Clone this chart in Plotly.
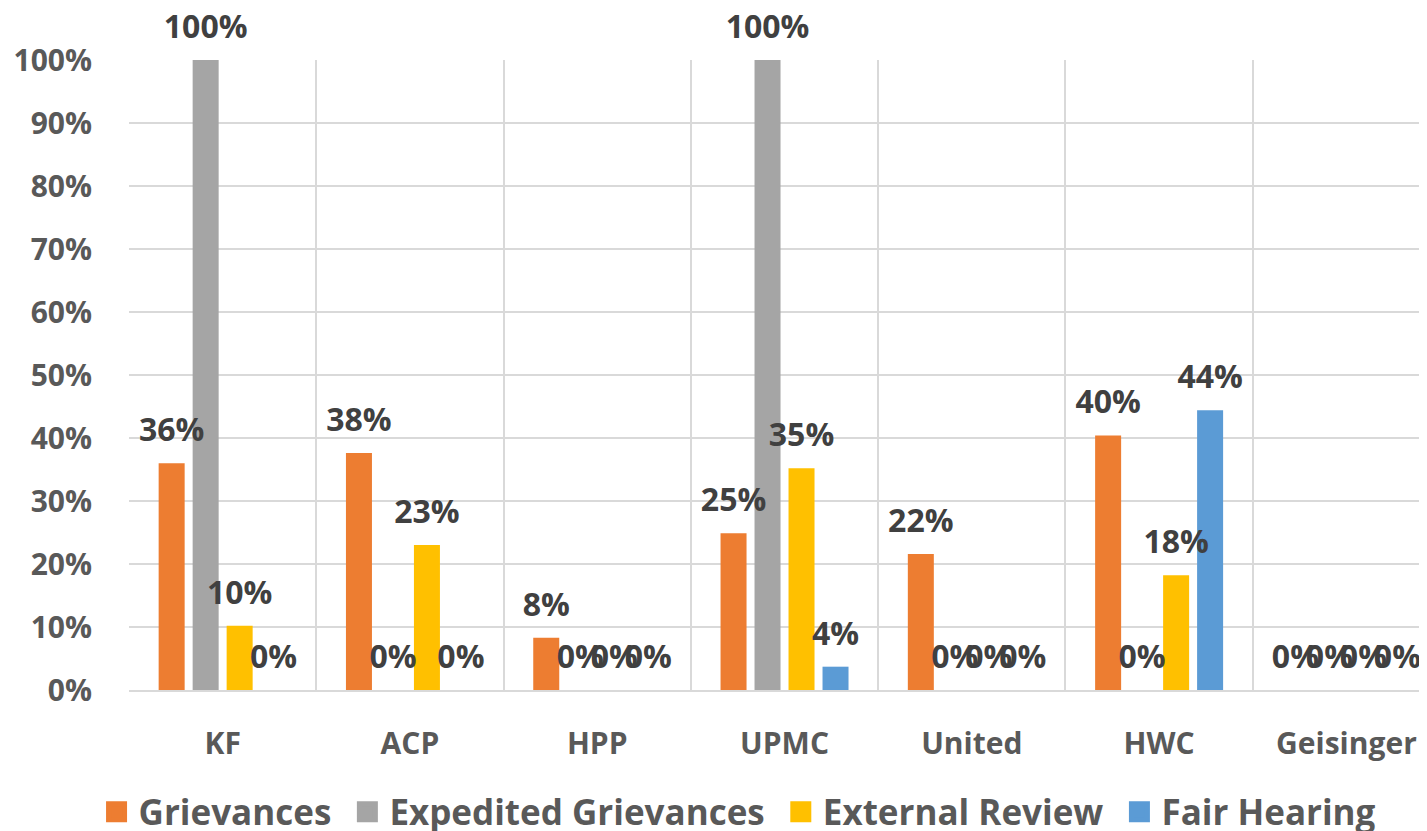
import plotly.graph_objects as go

categories = ["KF", "ACP", "HPP", "UPMC", "United", "HWC", "Geisinger"]
series_names = ["Grievances", "Expedited Grievances", "External Review", "Fair Hearing"]
grievances = [0.36, 0.376, 0.083, 0.249, 0.216, 0.404, 0.0]
expedited = [1.0, 0.0, 0.0, 1.0, 0.0, 0.0, 0.0]
external_review = [0.102, 0.23, 0.0, 0.352, 0.0, 0.182, 0.0]
fair_hearing = [0.0, 0.0, 0.0, 0.037, 0.0, 0.444, 0.0]
y_ticks = [0, 0.1, 0.2, 0.3, 0.4, 0.5, 0.6, 0.7, 0.8, 0.9, 1.0]

colors = ["#ED7D31", "#A5A5A5", "#FFC000", "#5B9BD5"]
series_values = [grievances, expedited, external_review, fair_hearing]
groups = ["g", "e", "x", "f"]
legend_names = [series_names[0] + "\u00a0", series_names[1] + "\u00a0",
                 series_names[2] + "\u00a0", series_names[3]]

FONT = "Open Sans"
AXIS_GREY = "#595959"
LABEL_GREY = "#404040"
GRID = "#D9D9D9"

fig = go.Figure()

for name, vals, col, grp in zip(series_names, series_values, colors, groups):
    fig.add_trace(go.Bar(
        x=categories, y=vals, name=name, marker=dict(color=col, line=dict(width=0)),
        offsetgroup=grp, showlegend=False, hoverinfo="skip",
    ))

for name, vals, col, grp in zip(series_names, series_values, colors, groups):
    fig.add_trace(go.Scatter(
        x=categories, y=vals, mode="markers+text", offsetgroup=grp,
        marker=dict(size=21, opacity=0, color=col),
        texttemplate="%{y:.0%}", textposition="top center",
        textfont=dict(family=FONT, size=32, color=LABEL_GREY, weight="bold"),
        cliponaxis=False, showlegend=False, hoverinfo="skip",
    ))

for lname, col, grp in zip(legend_names, colors, groups):
    fig.add_trace(go.Scatter(
        x=[None], y=[None], mode="markers", name=lname, offsetgroup=grp,
        marker=dict(symbol="square", size=16, color=col, line=dict(width=5, color=col)),
    ))

fig.update_layout(
    width=1427, height=831,
    margin=dict(l=121, r=0, t=52, b=149, autoexpand=False),
    paper_bgcolor="white", plot_bgcolor="white",
    barmode="group", bargap=0.274, bargroupgap=0.235,
    scattermode="group", scattergap=0.274,
    font=dict(family=FONT, color=AXIS_GREY, weight="bold"),
    xaxis=dict(
        range=[-0.5, 6.473], tickson="boundaries", showgrid=True, gridcolor=GRID, gridwidth=1.5,
        showline=True, linecolor=GRID, linewidth=1.5, ticks="", zeroline=False,
        tickfont=dict(family=FONT, size=30, color=AXIS_GREY, weight="bold"),
        ticklabelstandoff=26, automargin=False,
    ),
    yaxis=dict(
        range=[0, 1.0], tickvals=y_ticks, tickformat=".0%", showgrid=True, gridcolor=GRID,
        gridwidth=1.5, zeroline=False, showline=False, ticks="",
        tickfont=dict(family=FONT, size=30, color=AXIS_GREY, weight="bold"),
        ticklabelstandoff=36, automargin=False,
    ),
    legend=dict(
        orientation="h", xref="container", yref="container",
        x=0.5116, xanchor="center", y=0.0325, yanchor="middle",
        itemwidth=34,
        font=dict(family=FONT, size=35, color=AXIS_GREY, weight="bold"),
        bgcolor="rgba(0,0,0,0)",
    ),
)

fig.write_html("out.html")
